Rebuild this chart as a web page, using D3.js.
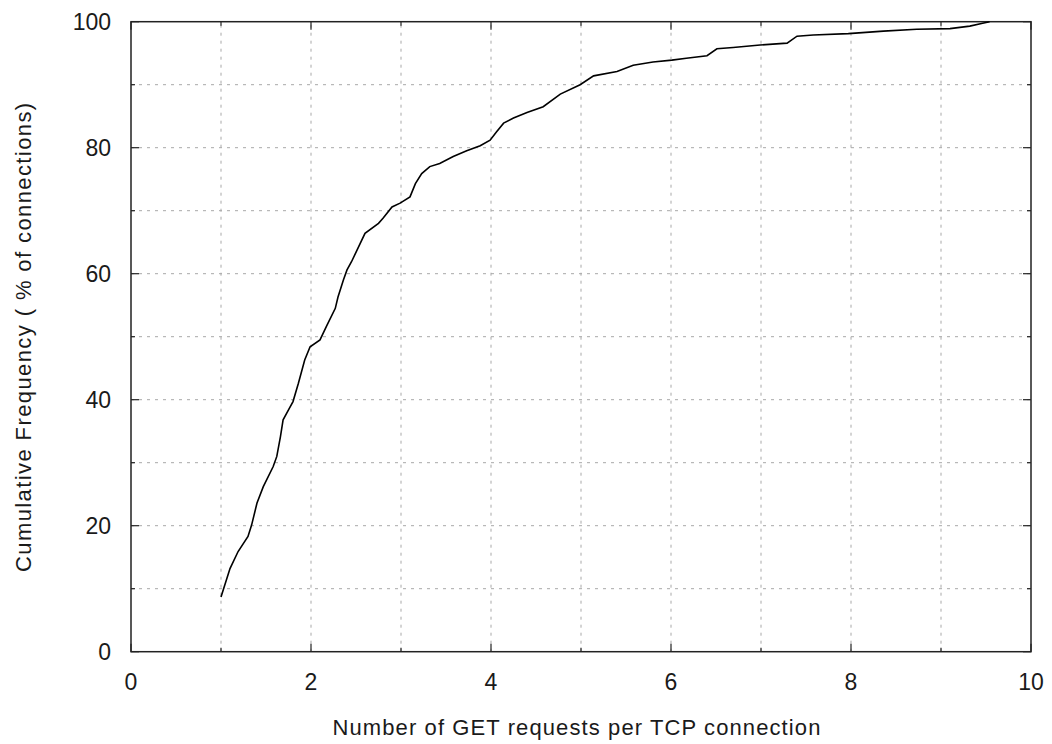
<!DOCTYPE html>
<html>
<head>
<meta charset="utf-8">
<script src="https://cdn.jsdelivr.net/npm/d3@7"></script>
<style>
  body { margin: 0; background: #fff; }
  text { font-family: "Liberation Sans", Arial, sans-serif; fill: #1a1a1a; }
</style>
</head>
<body>
<svg id="svg" width="1052" height="744"></svg>
<script>
const svg = d3.select("#svg");

// requests per connection (x) and cumulative frequency % (y)
const requests = [
  1.0, 1.1, 1.19, 1.3, 1.34, 1.4, 1.47, 1.58, 1.62, 1.66, 1.69, 1.75, 1.8, 1.86,
  1.93, 1.99, 2.1, 2.17, 2.27, 2.3, 2.36, 2.4, 2.45, 2.6, 2.75, 2.8, 2.9, 2.99,
  3.1, 3.16, 3.23, 3.32, 3.43, 3.58, 3.73, 3.88, 3.99, 4.06, 4.14, 4.25, 4.4,
  4.58, 4.77, 4.99, 5.14, 5.4, 5.58, 5.8, 6.01, 6.17, 6.4, 6.51, 6.69, 6.99,
  7.29, 7.4, 7.58, 7.97, 8.36, 8.73, 9.1, 9.32, 9.45, 9.54
];
const cumFreq = [
  8.7, 13.2, 15.9, 18.3, 20.1, 23.6, 26.2, 29.4, 31.0, 34.1, 36.8, 38.4, 39.7, 42.6,
  46.3, 48.4, 49.5, 51.6, 54.5, 56.3, 59.0, 60.6, 61.9, 66.4, 68.0, 68.8, 70.6, 71.2,
  72.2, 74.3, 75.9, 77.0, 77.5, 78.6, 79.5, 80.3, 81.2, 82.5, 83.9, 84.7, 85.6,
  86.5, 88.5, 90.0, 91.4, 92.1, 93.1, 93.6, 93.9, 94.2, 94.6, 95.7, 95.9, 96.3,
  96.6, 97.7, 97.9, 98.1, 98.5, 98.8, 98.9, 99.3, 99.7, 100
];

const xTickLabels = [0, 2, 4, 6, 8, 10];
const yTickLabels = [0, 20, 40, 60, 80, 100];
const xGrid = [1, 2, 3, 4, 5, 6, 7, 8, 9];
const yGrid = [10, 20, 30, 40, 50, 60, 70, 80, 90];

const margin = { left: 131, right: 21, top: 21.7, bottom: 92.3 };
const width = 1052, height = 744;
const x0 = margin.left, x1 = width - margin.right;
const y0 = height - margin.bottom, y1 = margin.top;

const x = d3.scaleLinear().domain([0, 10]).range([x0, x1]);
const y = d3.scaleLinear().domain([0, 100]).range([y0, y1]);

const data = requests.map((r, i) => ({ r, f: cumFreq[i] }));

// grid
const grid = svg.append("g").attr("stroke", "#a8a8a8").attr("stroke-width", 1)
  .attr("stroke-dasharray", "3,5");
grid.selectAll("line.v").data(xGrid).join("line")
  .attr("x1", d => x(d)).attr("x2", d => x(d))
  .attr("y1", y0).attr("y2", y1);
grid.selectAll("line.h").data(yGrid).join("line")
  .attr("y1", d => y(d)).attr("y2", d => y(d))
  .attr("x1", x0).attr("x2", x1);

// ticks on all four sides, major ticks longer than minor ones
const xMinor = d3.range(0, 11);
const yMinor = d3.range(0, 101, 10);
const tickLen = v => (v % 2 === 0 ? 8 : 4);
const tickLenY = v => (v % 20 === 0 ? 8 : 4);

const axes = svg.append("g");

const ticks = axes.append("g").attr("stroke", "#222").attr("stroke-width", 1.2);
ticks.selectAll("line.b").data(xMinor).join("line")
  .attr("x1", d => x(d)).attr("x2", d => x(d))
  .attr("y1", y0).attr("y2", d => y0 - tickLen(d));
ticks.selectAll("line.t").data(xMinor).join("line")
  .attr("x1", d => x(d)).attr("x2", d => x(d))
  .attr("y1", y1).attr("y2", d => y1 + tickLen(d));
ticks.selectAll("line.l").data(yMinor).join("line")
  .attr("y1", d => y(d)).attr("y2", d => y(d))
  .attr("x1", x0).attr("x2", d => x0 + tickLenY(d));
ticks.selectAll("line.r").data(yMinor).join("line")
  .attr("y1", d => y(d)).attr("y2", d => y(d))
  .attr("x1", x1).attr("x2", d => x1 - tickLenY(d));

axes.append("rect")
  .attr("x", x0).attr("y", y1)
  .attr("width", x1 - x0).attr("height", y0 - y1)
  .attr("fill", "none").attr("stroke", "#222").attr("stroke-width", 1.5);

// tick labels
axes.selectAll("text.xl").data(xTickLabels).join("text")
  .attr("x", d => x(d)).attr("y", 690)
  .attr("text-anchor", "middle").attr("font-size", 23)
  .text(d => d);
axes.selectAll("text.yl").data(yTickLabels).join("text")
  .attr("x", 111).attr("y", d => y(d) + 8.5)
  .attr("text-anchor", "end").attr("font-size", 23)
  .text(d => d);

// titles
svg.append("text")
  .attr("x", 577).attr("y", 735)
  .attr("text-anchor", "middle").attr("font-size", 22)
  .attr("letter-spacing", 1.1)
  .text("Number of GET requests per TCP connection");
svg.append("text")
  .attr("transform", `translate(31,${(y0 + y1) / 2}) rotate(-90)`)
  .attr("text-anchor", "middle").attr("font-size", 22)
  .attr("letter-spacing", 1.4)
  .text("Cumulative Frequency ( % of connections)");

// curve
const line = d3.line().x(d => x(d.r)).y(d => y(d.f));
svg.append("path")
  .datum(data)
  .attr("d", line)
  .attr("fill", "none")
  .attr("stroke", "#000")
  .attr("stroke-width", 1.6);
</script>
</body>
</html>
